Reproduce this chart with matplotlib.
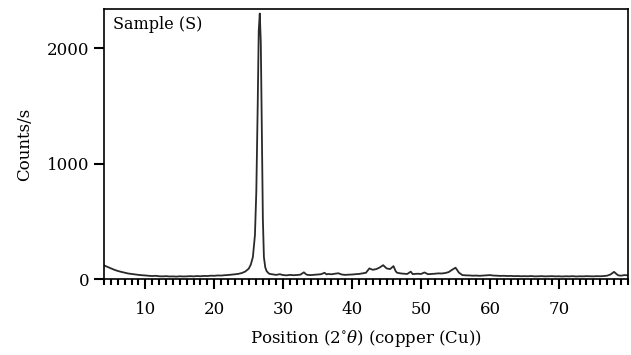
import matplotlib
matplotlib.use("Agg")
import matplotlib.pyplot as plt
from matplotlib.ticker import MultipleLocator

position = [4.0, 4.5, 5.0, 5.5, 6.0, 6.5, 7.0, 7.5, 8.0, 8.5, 9.0, 9.5, 10.0, 10.5, 11.0, 11.5,
            12.0, 12.5, 13.0, 13.5, 14.0, 14.5, 15.0, 15.5, 16.0, 16.5, 17.0, 17.5, 18.0, 18.5,
            19.0, 19.5, 20.0, 20.5, 21.0, 21.5, 22.0, 22.5, 23.0, 23.5, 24.0, 24.5, 25.0, 25.3,
            25.6, 25.9, 26.1, 26.3, 26.45, 26.6, 26.75, 26.9, 27.05, 27.2, 27.4, 27.6, 27.8, 28.0,
            28.5, 29.0, 29.5, 30.0, 30.5, 31.0, 31.5, 32.0, 32.5, 33.0, 33.3, 33.5, 34.0, 34.5,
            35.0, 35.5, 36.0, 36.3, 36.5, 37.0, 37.5, 38.0, 38.5, 39.0, 39.5, 40.0, 40.5, 41.0,
            41.5, 42.0, 42.5, 43.0, 43.5, 44.0, 44.5, 45.0, 45.5, 46.0, 46.3, 46.5, 47.0, 47.5,
            48.0, 48.5, 48.8, 49.0, 49.5, 50.0, 50.5, 51.0, 51.5, 52.0, 52.5, 53.0, 53.5, 54.0,
            54.5, 55.0, 55.5, 56.0, 56.5, 57.0, 57.5, 58.0, 58.5, 59.0, 59.5, 60.0, 60.5, 61.0,
            61.5, 62.0, 62.5, 63.0, 63.5, 64.0, 64.5, 65.0, 65.5, 66.0, 66.5, 67.0, 67.5, 68.0,
            68.5, 69.0, 69.5, 70.0, 70.5, 71.0, 71.5, 72.0, 72.5, 73.0, 73.5, 74.0, 74.5, 75.0,
            75.5, 76.0, 76.5, 77.0, 77.5, 78.0, 78.3, 78.6, 79.0, 79.5, 80.0]

counts = [118, 105, 92, 80, 70, 62, 55, 48, 44, 40, 36, 33, 31, 28, 26, 28,
          24, 23, 25, 22, 23, 21, 24, 22, 23, 25, 23, 26, 24, 27,
          26, 29, 28, 31, 30, 33, 35, 38, 41, 45, 52, 65, 90, 125,
          190, 380, 760, 1500, 2150, 2300, 2050, 1250, 520, 190, 100, 68, 55, 45,
          40, 36, 42, 34, 32, 36, 33, 35, 38, 58, 42, 36, 34, 37,
          39, 42, 54, 40, 44, 41, 46, 50, 39, 36, 38, 39, 42, 44,
          49, 54, 92, 80, 86, 100, 120, 92, 86, 112, 70, 55, 49, 46,
          44, 64, 42, 44, 46, 44, 57, 42, 44, 46, 49, 48, 52, 60,
          80, 98, 55, 34, 32, 31, 29, 30, 28, 30, 32, 34, 30, 29,
          27, 28, 26, 27, 25, 26, 24, 25, 24, 26, 23, 24, 25, 23,
          24, 25, 23, 24, 22, 24, 23, 25, 22, 24, 23, 25, 24, 23,
          25, 24, 26, 29, 40, 62, 46, 32, 29, 34, 32]

x_ticks = [10, 20, 30, 40, 50, 60, 70]
y_ticks = [0, 1000, 2000]

plt.rcParams['font.family'] = ['DejaVu Serif']
plt.rcParams['mathtext.fontset'] = 'dejavuserif'

fig = plt.figure(figsize=(6.31, 3.55), dpi=100)
ax = fig.add_axes([0.1648, 0.214, 0.8302, 0.761])
ax.plot(position, counts, color='#2a2a2a', linewidth=1.3)
ax.set_xlim(4, 80)
ax.set_ylim(0, 2340)
ax.set_xticks(x_ticks)
ax.set_yticks(y_ticks)
ax.xaxis.set_minor_locator(MultipleLocator(1))
ax.tick_params(axis='both', which='major', direction='out', length=7, width=1.5,
               labelsize=12, color='black')
ax.tick_params(axis='x', which='minor', direction='out', length=4, width=1.5)
ax.tick_params(axis='x', which='major', pad=9)
for s in ax.spines.values():
    s.set_linewidth(1.2)
ax.text(0.018, 0.975, 'Sample (S)', transform=ax.transAxes, ha='left', va='top', fontsize=11.5)
ax.set_xlabel(r'Position (2$^{\circ}\theta$) (copper (Cu))', fontsize=12, labelpad=7)
ax.set_ylabel('Counts/s', fontsize=12, labelpad=10)
fig.savefig('out.png', dpi=100)
